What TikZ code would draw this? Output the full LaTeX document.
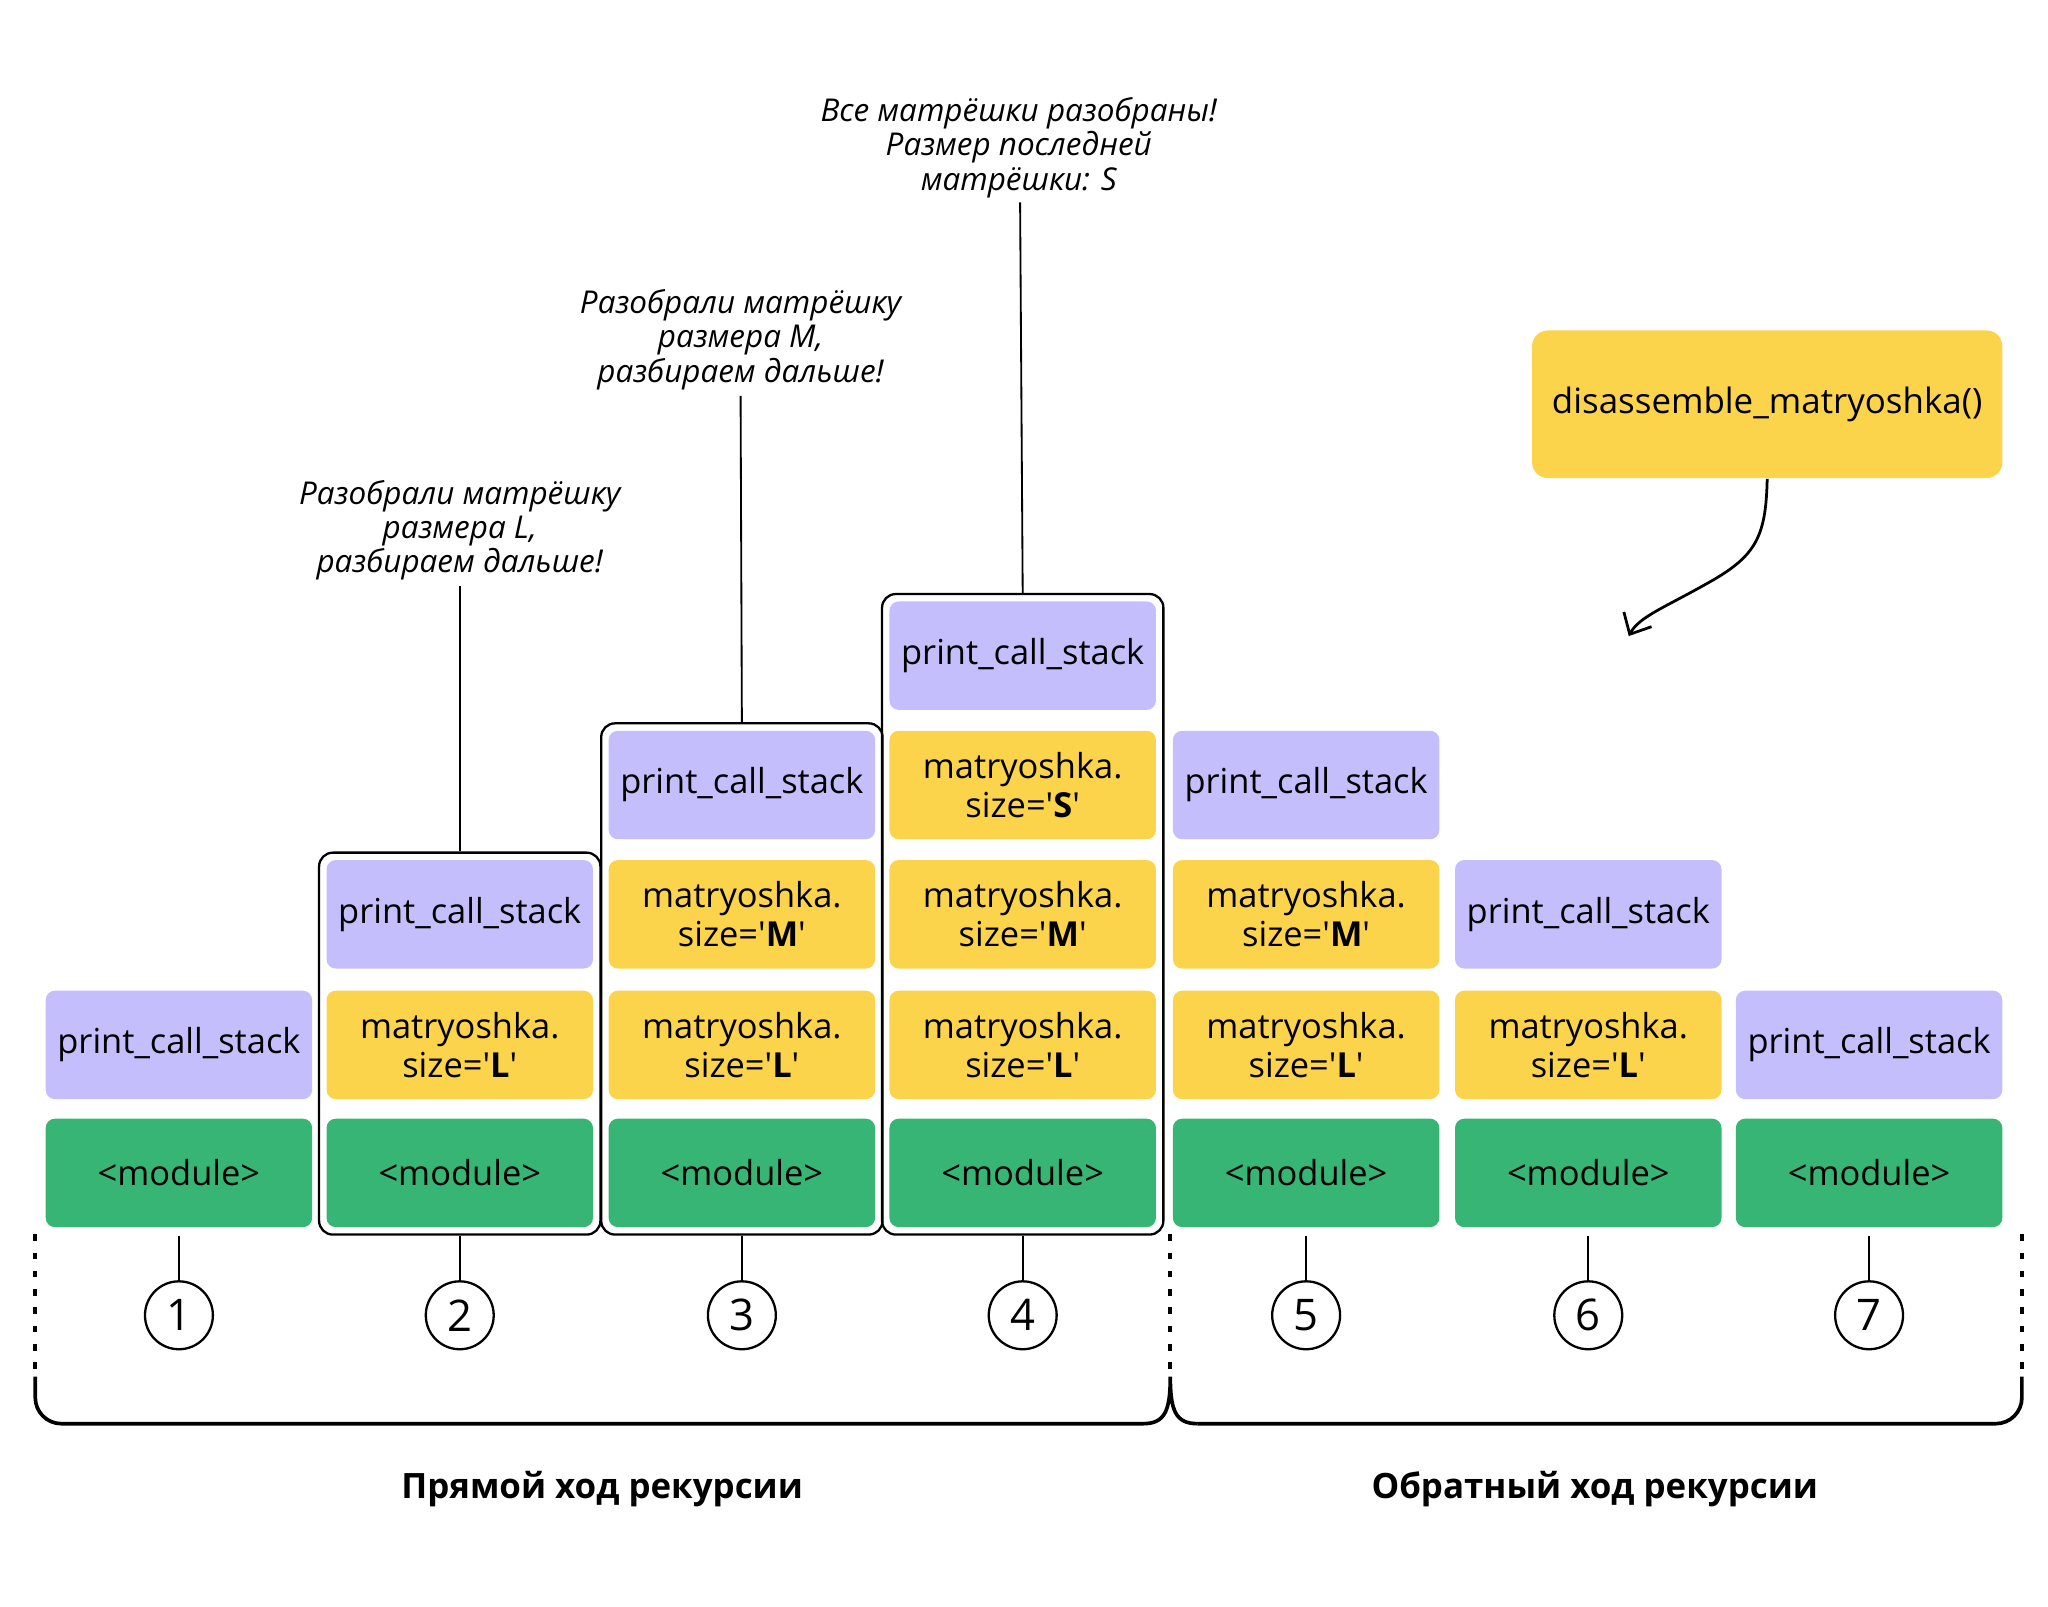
\documentclass[tikz,border=0pt]{standalone}
\usepackage{fontspec}
\setmainfont{Open Sans}
\usetikzlibrary{positioning,fit,arrows.meta}
\definecolor{lilac}{RGB}{196,190,252}
\definecolor{mustard}{RGB}{251,212,76}
\definecolor{grass}{RGB}{54,181,117}
\newcommand{\msize}[1]{matryoshka.\\size=\textquotesingle\textbf{#1}\textquotesingle}

\begin{document}
\begin{tikzpicture}[
  blk/.style={minimum width=2.04cm, minimum height=0.83cm, inner sep=0pt, rounded corners=2pt, align=center, font=\fontsize{7.5}{8.5}\selectfont},
  callblk/.style={blk, fill=lilac},
  sizeblk/.style={blk, fill=mustard},
  modblk/.style={blk, fill=grass},
  frame/.style={draw, rounded corners=3pt, line width=0.5pt, inner sep=0.05cm},
  stepnum/.style={circle, draw, line width=0.5pt, minimum size=0.52cm, inner sep=0pt, font=\fontsize{9.5}{10}\selectfont},
  note/.style={align=center, inner sep=0pt, font=\itshape\fontsize{6.85}{7.5}\selectfont},
  brace/.style={line width=0.8pt, rounded corners=0.2cm},
  dots/.style={line width=0.8pt, dash pattern=on 0.05cm off 0.09cm},
  pass/.style={font=\bfseries\fontsize{7.6}{9}\selectfont}
]
  \useasboundingbox (0,0) rectangle (15.68,-12.30);

  \foreach \i/\x in {1/1.37,2/3.52,3/5.68,4/7.83,5/10.00,6/12.16,7/14.31}
  {
  \node[modblk] (mod\i) at (\x,-8.98) {<module>};
  \node[stepnum] (num\i) at (\x,-10.07) {\i};
  \draw[line width=0.4pt] ([yshift=-0.06cm]mod\i.south) -- (num\i);
  }

  \node[callblk] (call1) at (1.37,-8.00) {print\_call\_stack};
  \foreach \i/\x in {2/3.52,3/5.68,4/7.83,5/10.00,6/12.16}
  {
  \node[sizeblk] (szL\i) at (\x,-8.00) {\msize{L}};
  }
  \node[callblk] (call7) at (14.31,-8.00) {print\_call\_stack};

  \node[callblk] (call2) at (3.52,-7.00) {print\_call\_stack};
  \foreach \i/\x in {3/5.68,4/7.83,5/10.00}
  {
  \node[sizeblk] (szM\i) at (\x,-7.00) {\msize{M}};
  }
  \node[callblk] (call6) at (12.16,-7.00) {print\_call\_stack};

  \node[callblk] (call3) at (5.68,-6.01) {print\_call\_stack};
  \node[sizeblk] (szS4) at (7.83,-6.01) {\msize{S}};
  \node[callblk] (call5) at (10.00,-6.01) {print\_call\_stack};

  \node[callblk] (call4) at (7.83,-5.02) {print\_call\_stack};

  \node[frame, fit=(call2)(mod2)] (box2) {};
  \node[frame, fit=(call3)(mod3)] (box3) {};
  \node[frame, fit=(call4)(mod4)] (box4) {};

  \node[note] (note2) at (3.52,-4.06) {Разобрали матрёшку\\размера L,\\разбираем дальше!};
  \node[note] (note3) at (5.67,-2.60) {Разобрали матрёшку\\размера M,\\разбираем дальше!};
  \node[note] (note4) at (7.80,-1.13) {Все матрёшки разобраны!\\Размер последней\\матрёшки: S};
  \coordinate (tip2) at (3.52,-4.49);
  \coordinate (tip3) at (5.67,-3.03);
  \coordinate (tip4) at (7.81,-1.55);
  \draw[line width=0.4pt] (box2.north) -- (tip2);
  \draw[line width=0.4pt] (box3.north) -- (tip3);
  \draw[line width=0.4pt] (box4.north) -- (tip4);

  \draw[dots] (0.27,-9.45) -- (0.27,-10.50);
  \draw[dots] (8.96,-9.45) -- (8.96,-10.50);
  \draw[dots] (15.48,-9.45) -- (15.48,-10.50);
  \draw[brace] (0.27,-10.54) -- (0.27,-10.90) -- (8.75,-10.90);
  \draw[line width=0.8pt] (8.75,-10.90) .. controls (8.92,-10.90) and (8.96,-10.80) .. (8.96,-10.54) .. controls (8.96,-10.80) and (9.00,-10.90) .. (9.17,-10.90);
  \draw[brace] (9.17,-10.90) -- (15.48,-10.90) -- (15.48,-10.54);

  \node[pass] (fwd) at (4.61,-11.40) {Прямой ход рекурсии};
  \node[pass] (bwd) at (12.21,-11.40) {Обратный ход рекурсии};

  \node[fill=mustard, rounded corners=0.12cm, minimum width=3.60cm, minimum height=1.13cm, font=\fontsize{7.6}{9}\selectfont] (dis) at (13.53,-3.095) {disassemble\_matryoshka()};
  \coordinate (aim) at (12.47,-4.87);
  \draw[line width=0.6pt, -{Straight Barb[length=1.3mm, width=2.4mm]}] (dis.south) .. controls (13.52,-4.10) and (13.45,-4.25) .. (13.10,-4.45) .. controls (12.75,-4.65) and (12.55,-4.72) .. (aim);
\end{tikzpicture}
\end{document}
